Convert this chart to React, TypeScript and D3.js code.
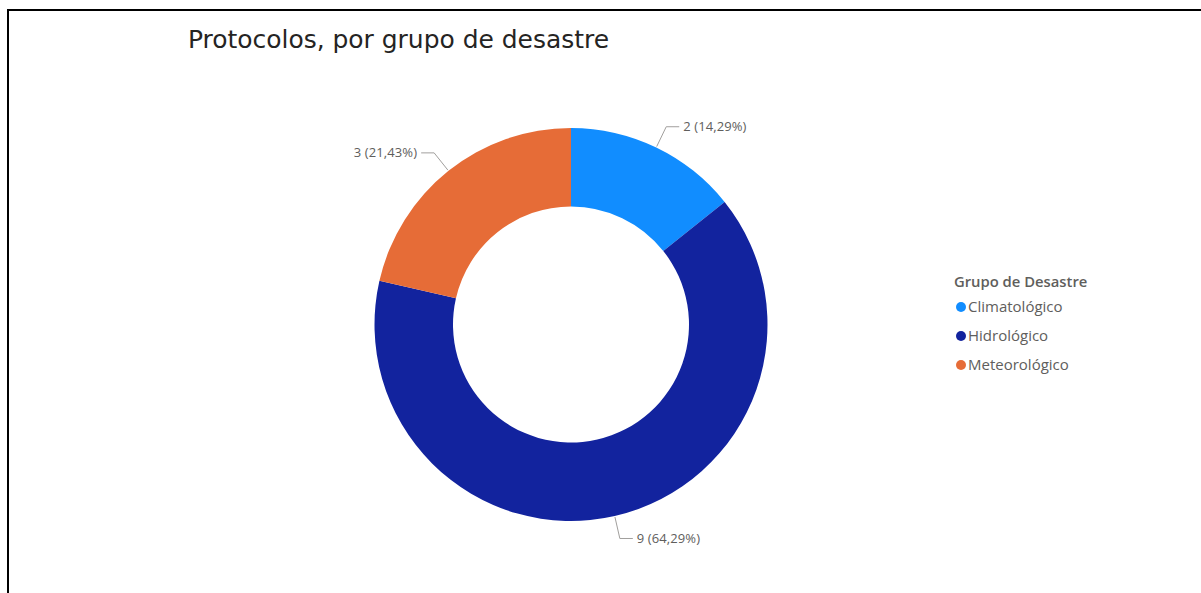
import React from "react";
import * as d3 from "d3";

const categories = ["Climatológico", "Hidrológico", "Meteorológico"];
const values = [2, 9, 3];
const colors = ["#118DFF", "#12239E", "#E66C37"];
const titleText = "Protocolos, por grupo de desastre";
const legendTitle = "Grupo de Desastre";

const W = 1201;
const H = 593;
const cx = 571;
const cy = 324.5;
const R = 196.5;
const r = 118;

export default function App() {
  const total = d3.sum(values);
  const pie = d3.pie<number>().sort(null).value((d) => d)(values);
  const arc = d3.arc<d3.PieArcDatum<number>>().innerRadius(r).outerRadius(R);
  const fmt = (v: number) =>
    `${v} (${((v / total) * 100).toFixed(2).replace(".", ",")}%)`;

  return (
    <svg
      width={W}
      height={H}
      style={{ position: "absolute", left: 0, top: 0, background: "#fff" }}
    >
      <path d={`M8,${H} V10 H${W}`} fill="none" stroke="#000" strokeWidth={2} />
      <text
        x={188}
        y={48}
        fontFamily="'DejaVu Sans Condensed', 'DejaVu Sans', sans-serif"
        fontSize={24}
        textLength={421}
        lengthAdjust="spacingAndGlyphs"
        fill="#252423"
      >
        {titleText}
      </text>
      <g transform={`translate(${cx},${cy})`}>
        {pie.map((p, i) => (
          <path key={i} d={arc(p) || ""} fill={colors[i]} />
        ))}
        {pie.map((p, i) => {
          const a = (p.startAngle + p.endAngle) / 2;
          const s = Math.sin(a);
          const c = -Math.cos(a);
          const x0 = (R + 1) * s;
          const y0 = (R + 1) * c;
          const x1 = (R + 23) * s;
          const y1 = (R + 23) * c;
          const dir = s >= 0 ? 1 : -1;
          const x2 = x1 + dir * 13;
          return (
            <g key={"l" + i}>
              <polyline
                points={`${x0},${y0} ${x1},${y1} ${x2},${y1}`}
                fill="none"
                stroke="#A19F9D"
                strokeWidth={1}
              />
              <text
                x={x2 + dir * 4}
                y={y1}
                dy="0.35em"
                textAnchor={dir > 0 ? "start" : "end"}
                fontFamily="'Open Sans', sans-serif"
                fontSize={13}
                letterSpacing={0.1}
                fill="#605E5C"
              >
                {fmt(values[i])}
              </text>
            </g>
          );
        })}
      </g>
      <g>
        <text
          x={954}
          y={287}
          fontFamily="'Open Sans', sans-serif"
          fontWeight={600}
          fontSize={14.8}
          fill="#605E5C"
        >
          {legendTitle}
        </text>
        {categories.map((cat, i) => (
          <g key={cat} transform={`translate(0,${307 + i * 29})`}>
            <circle cx={961} cy={0} r={5} fill={colors[i]} />
            <text
              x={968}
              y={0}
              dy="0.35em"
              fontFamily="'Open Sans', sans-serif"
              fontSize={15}
              fill="#605E5C"
            >
              {cat}
            </text>
          </g>
        ))}
      </g>
    </svg>
  );
}
